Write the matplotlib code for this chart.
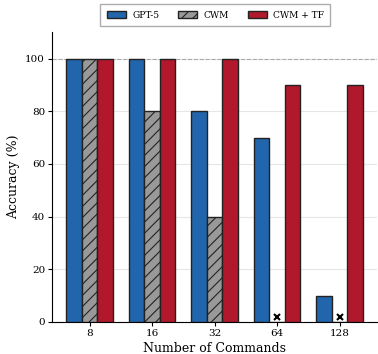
import matplotlib
matplotlib.use("Agg")
import matplotlib.pyplot as plt
import numpy as np

plt.rcParams['font.family'] = ['DejaVu Serif']
plt.rcParams['hatch.linewidth'] = 0.8

categories = ['8', '16', '32', '64', '128']
gpt5 = [100, 100, 80, 70, 10]
cwm = [100, 80, 40, 0, 0]
cwm_tf = [100, 100, 100, 90, 90]
cwm_fail = [False, False, False, True, True]

fig = plt.figure(figsize=(3.78, 3.54), dpi=100)
ax = fig.add_axes([0.1376, 0.0904, 0.8598, 0.8184])

x = np.arange(len(categories))
w = 0.25
ax.bar(x - w, gpt5, w, color='#2166ac', edgecolor='#222222', linewidth=1.0, label='GPT-5', zorder=3)
ax.bar(x, cwm, w, color='#999999', edgecolor='#222222', linewidth=1.0, hatch='///', label='CWM', zorder=3)
ax.bar(x + w, cwm_tf, w, color='#b2182b', edgecolor='#222222', linewidth=1.0, label='CWM + TF', zorder=3)

for xi, f in zip(x, cwm_fail):
    if f:
        ax.plot(xi, 2, marker='x', color='black', markersize=4.5, markeredgewidth=1.5, zorder=4)

ax.axhline(100, color='#aaaaaa', linestyle='--', linewidth=0.8, zorder=1)
ax.yaxis.grid(True, color='#e6e6e6', linewidth=0.8, zorder=0)
ax.set_axisbelow(True)

ax.set_xlim(-0.6, 4.6)
ax.set_ylim(0, 110)
ax.set_yticks([0, 20, 40, 60, 80, 100])
ax.set_xticks(x)
ax.set_xticklabels(categories)
ax.tick_params(labelsize=7.5, length=3, pad=2)
ax.set_xlabel('Number of Commands', fontsize=9, labelpad=3)
ax.set_ylabel('Accuracy (%)', fontsize=9, labelpad=4)
ax.spines['top'].set_visible(False)
ax.spines['right'].set_visible(False)

fig.legend(loc='center', bbox_to_anchor=(0.5698, 0.957), ncol=3, fontsize=6.5,
           frameon=True, fancybox=False, edgecolor='#999999', handlelength=2.1,
           handletextpad=0.7, columnspacing=2.1, borderpad=0.7)

fig.savefig('out.png', dpi=100)
